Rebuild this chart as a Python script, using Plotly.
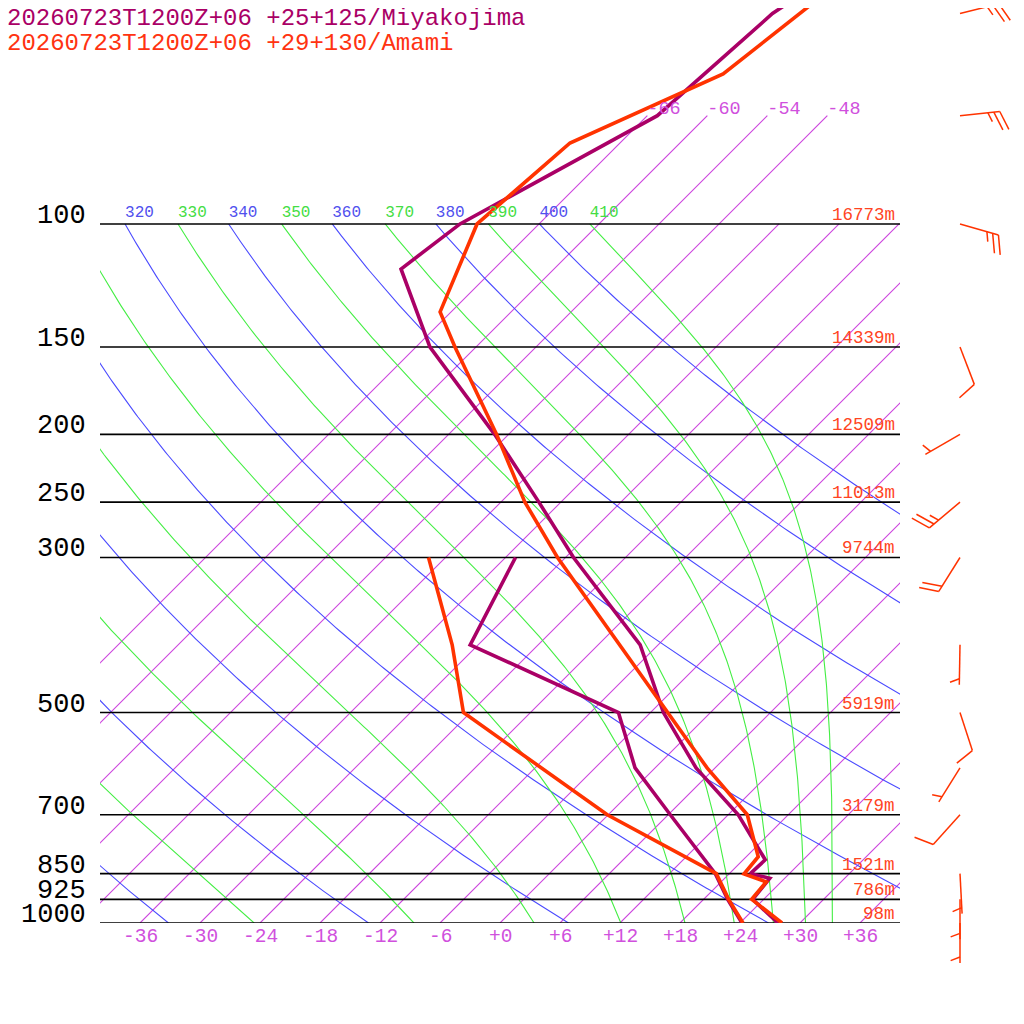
import numpy as np
import plotly.graph_objects as go

# ---------------- data ----------------
TITLE_MIYAKO = "20260723T1200Z+06 +25+125/Miyakojima"
TITLE_AMAMI = "20260723T1200Z+06 +29+130/Amami"

miyako_t_p = [30, 50, 70, 100, 116, 150, 200, 250, 300, 400, 500, 600, 700, 812, 850, 863, 925, 1000]
miyako_t = [-56.0, -63.7, -65.0, -73.9, -75.3, -64.6, -49.4, -38.2, -29.2, -13.8, -4.7, 4.1, 13.0,
            20.2, 20.1, 22.5, 22.9, 27.8]
miyako_td_p = [300, 400, 500, 600, 700, 850, 925, 1000]
miyako_td = [-35.0, -30.8, -9.2, -2.0, 6.2, 16.6, 20.4, 24.2]

amami_t_p = [30, 50, 61, 76.6, 100, 133.6, 150, 200, 250, 300, 400, 500, 600, 700, 804, 851, 873, 925, 1000]
amami_t = [-56.8, -60.9, -62.6, -71.0, -72.2, -67.1, -62.1, -49.2, -39.6, -30.8, -15.9, -4.3, 5.2, 13.9,
           19.2, 19.5, 22.5, 22.8, 28.2]
amami_td_p = [300, 400, 500, 700, 850, 925, 1000]
amami_td = [-43.7, -32.6, -24.7, -0.1, 16.7, 20.5, 24.3]

wind_p = [50, 70, 100, 150, 200, 250, 300, 400, 500, 600, 700, 850, 925, 1000]
wind_dir = [76, 84, 106, 159, 240, 230, 212, 181, 162, 212, 222, 177, 180, 180]
wind_kt = [25, 25, 25, 10, 5, 25, 20, 5, 10, 5, 10, 5, 5, 5]

isobar_levels = [100, 150, 200, 250, 300, 500, 700, 850, 925, 1000]
isobar_labels = ["100", "150", "200", "250", "300", "500", "700", "850", "925", "1000"]
height_labels = ["16773m", "14339m", "12509m", "11013m", "9744m", "5919m", "3179m", "1521m", "786m", "98m"]
isotherm_values = list(range(-66, 37, 6))
upper_isotherms = [-66, -60, -54, -48]
temp_tick_values = list(range(-36, 37, 6))
temp_tick_labels = ["-36", "-30", "-24", "-18", "-12", "-6", "+0", "+6", "+12", "+18", "+24", "+30", "+36"]
dry_theta = list(range(240, 401, 20))
moist_theta_e = list(range(250, 411, 20))

# ---------------- styling / geometry (page pixels) ----------------
PAGE = 1024
OFF = 8                      # default page body margin
FW = FH = PAGE - OFF
PX_L, PX_R, PX_B = 100, 900, 923
X_MIN, X_MAX = -40.0, 40.0
PX_PER_DEC = 699.06
PX_PER_DEG = (PX_R - PX_L) / (X_MAX - X_MIN)
SKEW = PX_PER_DEC / PX_PER_DEG       # deg C per decade of pressure (45 deg isotherms)
LOG_TOP = 3 - (PX_B - OFF) / PX_PER_DEC
FONT = "Liberation Mono"

C_ISO = "#cc44dd"
C_DRY = "#4a4aff"
C_MOIST = "#44ee44"
C_MIYAKO = "#aa0066"
C_AMAMI = "#ff3300"


def skx(t, p):
    return np.asarray(t, float) + SKEW * np.log10(1000.0 / np.asarray(p, float))


def ypx(p):
    return PX_B - PX_PER_DEC * np.log10(1000.0 / np.asarray(p, float))


def xpx(X):
    return PX_L + (np.asarray(X, float) - X_MIN) * PX_PER_DEG


def p_from_ypx(y):
    return 10 ** (3 - (PX_B - np.asarray(y, float)) / PX_PER_DEC)


def sat_theta_e(tc, p):
    e = 6.112 * np.exp(17.67 * tc / (tc + 243.5))
    e = np.minimum(e, 0.5 * p)
    r = 0.622 * e / (p - e)
    tk = tc + 273.15
    return tk * (1000.0 / p) ** (0.2854 * (1 - 0.28 * r)) * np.exp((3.376 / tk - 0.00254) * r * 1000.0 * (1 + 0.81 * r))


def moist_t(theta_e, p):
    lo = np.full_like(p, -150.0)
    hi = np.full_like(p, 45.0)
    for _ in range(60):
        mid = 0.5 * (lo + hi)
        f = sat_theta_e(mid, p) - theta_e
        hi = np.where(f > 0, mid, hi)
        lo = np.where(f > 0, lo, mid)
    return 0.5 * (lo + hi)


fig = go.Figure()


def add_lines(xs_list, ps_list, color, width, xaxis="x", yaxis="y"):
    xs, ps = [], []
    for xx, pp in zip(xs_list, ps_list):
        xs += list(xx) + [None]
        ps += list(pp) + [None]
    fig.add_trace(go.Scatter(x=xs, y=ps, mode="lines", line=dict(color=color, width=width),
                             hoverinfo="skip", showlegend=False, xaxis=xaxis, yaxis=yaxis))


# isotherms
iso_x, iso_p = [], []
for t in isotherm_values:
    ptop = 70 if t in upper_isotherms else 100
    pp = np.array([1000.0, ptop])
    iso_x.append(skx([t, t], pp))
    iso_p.append(pp)
add_lines(iso_x, iso_p, C_ISO, 1.1)

# dry adiabats
pgrid = np.geomspace(1000, 100, 240)
dx, dp = [], []
for th in dry_theta:
    tc = th * (pgrid / 1000.0) ** 0.2857 - 273.15
    dx.append(skx(tc, pgrid))
    dp.append(pgrid)
add_lines(dx, dp, C_DRY, 1.1)

# moist adiabats
mx, mp = [], []
moist_top_x = []
for the in moist_theta_e:
    tc = moist_t(the, pgrid)
    mx.append(skx(tc, pgrid))
    mp.append(pgrid)
    moist_top_x.append(skx(tc[-1], 100.0))
add_lines(mx, mp, C_MOIST, 1.1)

# isobars
bx, bp = [], []
for p in isobar_levels:
    bx.append([X_MIN, X_MAX])
    bp.append([p, p])
add_lines(bx, bp, "#000000", 1.6)

# soundings
for tp, tv, col in [(miyako_t_p, miyako_t, C_MIYAKO), (miyako_td_p, miyako_td, C_MIYAKO),
                    (amami_t_p, amami_t, C_AMAMI), (amami_td_p, amami_td, C_AMAMI)]:
    fig.add_trace(go.Scatter(x=skx(tv, tp), y=tp, mode="lines",
                             line=dict(color=col, width=3.6), hoverinfo="skip", showlegend=False))

# theta / theta-e labels at 100 hPa (clipped by the plot area like the reference)
p_lab = float(p_from_ypx(ypx(100) - 11))
dry_top_x = [skx(th * 0.1 ** 0.2857 - 273.15, 100.0) for th in dry_theta]
fig.add_trace(go.Scatter(x=dry_top_x, y=[p_lab] * len(dry_theta), mode="text",
                         text=[str(v) for v in dry_theta], textposition="middle right",
                         textfont=dict(family=FONT, size=16, color="#5050ee"),
                         cliponaxis=True, hoverinfo="skip", showlegend=False))
fig.add_trace(go.Scatter(x=moist_top_x, y=[p_lab] * len(moist_theta_e), mode="text",
                         text=[str(v) for v in moist_theta_e], textposition="middle right",
                         textfont=dict(family=FONT, size=16, color="#44dd44"),
                         cliponaxis=True, hoverinfo="skip", showlegend=False))

# upper isotherm labels
p_iso_lab = float(p_from_ypx(ypx(70) - 6))
fig.add_trace(go.Scatter(x=[skx(t, 70.0) for t in upper_isotherms], y=[p_iso_lab] * len(upper_isotherms),
                         mode="text", text=[str(t) for t in upper_isotherms], textposition="middle right",
                         textfont=dict(family=FONT, size=18.5, color="#d050dd"),
                         cliponaxis=False, hoverinfo="skip", showlegend=False))

# wind barbs (Amami) on a side subplot, y in pressure
BARB_X = 960.0
STAFF = 40.0
FULL, HALF, GAP = 20.0, 10.0, 6.0
ang = np.radians(69)
wb_x, wb_p = [], []
for p, d, s in zip(wind_p, wind_dir, wind_kt):
    x0, y0 = BARB_X, float(ypx(p))
    th = np.radians(d)
    ux, uy = np.sin(th), -np.cos(th)
    tx, ty = x0 + STAFF * ux, y0 + STAFF * uy
    fx = ux * np.cos(ang) - uy * np.sin(ang)
    fy = ux * np.sin(ang) + uy * np.cos(ang)
    segs = [((x0, y0), (tx, ty))]
    n10, n5 = s // 10, (s % 10) // 5
    k = 0
    for _ in range(n10):
        sx, sy = tx - k * GAP * ux, ty - k * GAP * uy
        segs.append(((sx, sy), (sx + FULL * fx, sy + FULL * fy)))
        k += 1
    if n5:
        if k == 0:
            k = 1
        sx, sy = tx - k * GAP * ux, ty - k * GAP * uy
        segs.append(((sx, sy), (sx + HALF * fx, sy + HALF * fy)))
    for (a, b) in segs:
        wb_x.append([a[0], b[0]])
        wb_p.append(p_from_ypx([a[1], b[1]]))
add_lines(wb_x, wb_p, C_AMAMI, 1.5, xaxis="x2", yaxis="y2")

# ---------------- annotations ----------------
ann = []


def add_text(text, x_px, y_px, xanchor, size, color):
    ann.append(dict(text=text, x=(x_px - OFF) / FW, y=1 - (y_px - OFF) / FH, xref="paper", yref="paper",
                    xanchor=xanchor, yanchor="middle", showarrow=False,
                    font=dict(family=FONT, size=size, color=color)))


add_text(TITLE_MIYAKO, 5, 19, "left", 24, C_MIYAKO)
add_text(TITLE_AMAMI, 5, 43, "left", 24, "#ff3311")
for p, lab, hl in zip(isobar_levels, isobar_labels, height_labels):
    yy = float(ypx(p))
    add_text(lab, 88, yy - 8, "right", 27, "#000000")
    add_text(hl, 897, yy - 9, "right", 17.5, "#ff4422")
for t, lab in zip(temp_tick_values, temp_tick_labels):
    add_text(lab, float(xpx(skx(t, 1000.0))), 937, "center", 19.5, "#d050dd")

fig.update_layout(
    width=FW, height=FH, margin=dict(l=0, r=0, t=0, b=0),
    paper_bgcolor="white", plot_bgcolor="rgba(0,0,0,0)",
    showlegend=False, annotations=ann,
    xaxis=dict(domain=[(PX_L - OFF) / FW, (PX_R - OFF) / FW], range=[X_MIN, X_MAX], visible=False,
               fixedrange=True),
    yaxis=dict(domain=[1 - (PX_B - OFF) / FH, 1], type="log", range=[3, LOG_TOP], visible=False,
               fixedrange=True),
    xaxis2=dict(domain=[(PX_R - OFF) / FW, 1], range=[PX_R, PAGE], visible=False, anchor="y2",
                fixedrange=True),
    yaxis2=dict(domain=[0, 1], type="log", range=[3 + (PAGE - PX_B) / PX_PER_DEC, LOG_TOP],
                visible=False, anchor="x2", fixedrange=True),
)

fig.write_html("out.html")
